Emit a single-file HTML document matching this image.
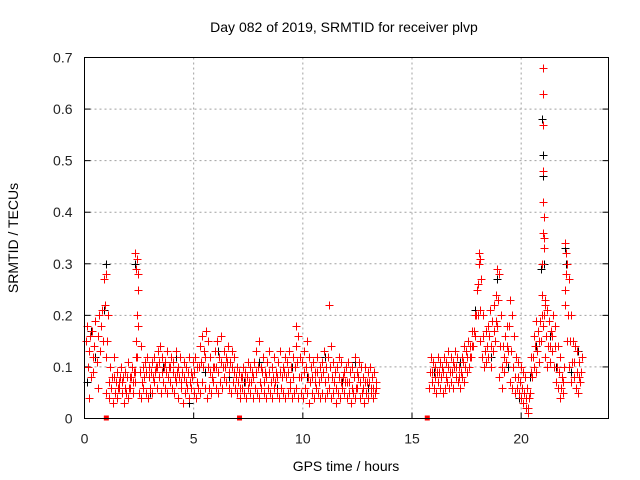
<!DOCTYPE html>
<html><head><meta charset="utf-8"><style>
body{margin:0;background:#fff}
svg{display:block;font-family:"Liberation Sans",sans-serif}
</style></head><body>
<svg id="c" width="640" height="480">
<text x="344" y="32" font-size="14" text-anchor="middle">Day 082 of 2019, SRMTID for receiver plvp</text>
<text x="346" y="471" font-size="14" text-anchor="middle">GPS time / hours</text>
<text transform="translate(18,238) rotate(-90)" font-size="14" text-anchor="middle">SRMTID / TECUs</text>
<g id="grid"></g><g id="marks"></g>
<rect x="84.5" y="57.5" width="524" height="361" fill="none" stroke="#000"/>
</svg>
<script>
const xTicks=[0,5,10,15,20];
const yTicks=[0,0.1,0.2,0.3,0.4,0.5,0.6,0.7];
const yTickLabels=["0","0.1","0.2","0.3","0.4","0.5","0.6","0.7"];
const blackT=[0.1,0.3,0.5,0.9,1.0,2.3,2.4,3.0,3.6,4.2,4.8,5.5,6.1,6.6,7.3,8.0,8.8,9.5,10.2,11.0,11.2,11.8,12.4,13.0,16.0,16.6,17.2,17.9,18.1,18.6,18.9,19.4,19.9,20.2,20.4,20.7,20.9,20.95,21.0,21.02,21.05,21.3,21.6,22.0,22.05,22.3,22.6];
const blackV=[0.07,0.17,0.12,0.21,0.3,0.3,0.2,0.05,0.1,0.12,0.03,0.09,0.13,0.08,0.07,0.11,0.06,0.1,0.08,0.12,0.22,0.07,0.11,0.06,0.09,0.07,0.11,0.21,0.31,0.12,0.27,0.1,0.04,0.02,0.08,0.14,0.29,0.58,0.51,0.47,0.3,0.16,0.1,0.33,0.3,0.09,0.13];
const redT=[0.05,0.1,0.15,0.2,0.25,0.3,0.35,0.4,0.45,0.5,0.55,0.6,0.65,0.7,0.75,0.8,0.85,0.9,0.95,1.0,1.0,2.3,2.35,2.35,2.4,2.4,2.45,9.7,11.2,18.05,18.1,18.9,20.95,21.0,21.0,21.0,21.0,21.02,21.02,21.04,21.05,21.05,21.1,22.0,22.0,22.05,22.1,0.2,0.4,0.6];
const redV=[0.15,0.18,0.1,0.13,0.16,0.08,0.17,0.12,0.14,0.19,0.11,0.16,0.2,0.13,0.18,0.21,0.15,0.27,0.22,0.28,0.12,0.32,0.29,0.15,0.31,0.2,0.28,0.18,0.22,0.3,0.31,0.29,0.3,0.68,0.63,0.42,0.36,0.57,0.48,0.39,0.33,0.35,0.22,0.34,0.25,0.32,0.3,0.04,0.09,0.06];
const segAStart=1.0, segBStart=15.8, step=0.1;
const segALow=[0.05,0.04,0.06,0.03,0.05,0.04,0.06,0.05,0.03,0.05,0.04,0.06,0.05,0.07,0.12,0.05,0.04,0.06,0.05,0.04,0.06,0.05,0.07,0.06,0.08,0.05,0.07,0.06,0.05,0.07,0.06,0.05,0.07,0.04,0.06,0.03,0.05,0.06,0.04,0.06,0.05,0.04,0.06,0.05,0.07,0.06,0.04,0.06,0.05,0.07,0.06,0.05,0.07,0.06,0.08,0.07,0.06,0.05,0.07,0.06,0.05,0.04,0.06,0.05,0.04,0.06,0.05,0.04,0.06,0.05,0.04,0.06,0.05,0.04,0.06,0.05,0.04,0.06,0.05,0.04,0.06,0.05,0.04,0.05,0.06,0.04,0.05,0.06,0.04,0.05,0.04,0.06,0.05,0.03,0.05,0.04,0.06,0.05,0.04,0.05,0.04,0.05,0.06,0.04,0.05,0.03,0.05,0.04,0.06,0.05,0.04,0.05,0.03,0.05,0.04,0.06,0.04,0.05,0.03,0.05,0.04,0.05,0.04,0.05];
const segAMid=[0.15,0.07,0.06,0.08,0.07,0.06,0.08,0.07,0.06,0.08,0.06,0.08,0.07,0.09,0.18,0.09,0.07,0.08,0.09,0.08,0.09,0.08,0.09,0.1,0.11,0.09,0.1,0.09,0.08,0.1,0.09,0.08,0.09,0.08,0.07,0.08,0.07,0.09,0.07,0.08,0.09,0.07,0.1,0.11,0.1,0.12,0.1,0.09,0.08,0.1,0.1,0.09,0.11,0.1,0.1,0.11,0.09,0.1,0.09,0.08,0.07,0.06,0.08,0.07,0.08,0.07,0.07,0.08,0.09,0.1,0.07,0.09,0.07,0.08,0.09,0.07,0.08,0.07,0.08,0.09,0.08,0.09,0.08,0.09,0.07,0.08,0.1,0.11,0.08,0.08,0.09,0.1,0.08,0.07,0.08,0.07,0.09,0.07,0.08,0.09,0.07,0.08,0.1,0.08,0.07,0.06,0.08,0.07,0.08,0.07,0.07,0.07,0.06,0.08,0.06,0.08,0.07,0.06,0.07,0.07,0.07,0.06,0.06,0.06];
const segAHigh=[0.2,0.1,0.08,0.12,0.09,0.07,0.1,0.08,0.09,0.11,0.08,0.1,0.09,0.12,0.25,0.14,0.1,0.11,0.12,0.1,0.11,0.12,0.1,0.13,0.14,0.12,0.11,0.13,0.1,0.12,0.11,0.13,0.1,0.12,0.09,0.11,0.1,0.12,0.09,0.11,0.12,0.1,0.14,0.16,0.13,0.17,0.15,0.12,0.1,0.13,0.15,0.12,0.16,0.13,0.12,0.14,0.11,0.13,0.12,0.1,0.09,0.08,0.1,0.09,0.11,0.1,0.09,0.11,0.13,0.15,0.1,0.12,0.09,0.11,0.13,0.1,0.12,0.09,0.11,0.13,0.1,0.12,0.11,0.13,0.1,0.12,0.14,0.16,0.12,0.11,0.13,0.15,0.12,0.1,0.11,0.09,0.12,0.1,0.11,0.13,0.1,0.12,0.14,0.11,0.09,0.1,0.12,0.11,0.09,0.1,0.11,0.09,0.1,0.12,0.09,0.11,0.1,0.08,0.1,0.09,0.1,0.08,0.09,0.07];
const segBLow=[0.06,0.07,0.06,0.05,0.07,0.06,0.05,0.06,0.07,0.06,0.07,0.06,0.08,0.07,0.06,0.08,0.07,0.09,0.1,0.12,0.14,0.16,0.2,0.15,0.12,0.1,0.11,0.12,0.1,0.13,0.15,0.18,0.08,0.06,0.09,0.11,0.13,0.07,0.06,0.05,0.06,0.05,0.04,0.03,0.02,0.01,0.05,0.08,0.1,0.09,0.11,0.15,0.18,0.12,0.1,0.11,0.13,0.1,0.07,0.06,0.04,0.05,0.22,0.15,0.1,0.07,0.08,0.06,0.05,0.07];
const segBMid=[0.09,0.09,0.08,0.09,0.09,0.08,0.09,0.08,0.1,0.09,0.09,0.1,0.1,0.08,0.09,0.11,0.1,0.12,0.12,0.14,0.17,0.2,0.26,0.21,0.16,0.13,0.14,0.16,0.14,0.17,0.19,0.23,0.14,0.1,0.12,0.14,0.18,0.13,0.1,0.08,0.08,0.07,0.06,0.05,0.04,0.02,0.09,0.12,0.14,0.13,0.15,0.2,0.2,0.16,0.14,0.14,0.16,0.14,0.1,0.09,0.06,0.07,0.28,0.2,0.15,0.11,0.11,0.09,0.08,0.09];
const segBHigh=[0.12,0.11,0.1,0.12,0.11,0.1,0.12,0.11,0.13,0.12,0.11,0.13,0.12,0.1,0.12,0.14,0.13,0.15,0.14,0.17,0.2,0.25,0.32,0.27,0.2,0.17,0.18,0.21,0.19,0.22,0.24,0.28,0.2,0.14,0.16,0.18,0.23,0.2,0.16,0.12,0.11,0.1,0.09,0.08,0.06,0.04,0.12,0.16,0.19,0.17,0.19,0.24,0.23,0.21,0.19,0.17,0.2,0.18,0.14,0.12,0.08,0.1,0.32,0.27,0.2,0.15,0.14,0.13,0.11,0.12];
const zeroMarkT=[1.0,7.1,15.7];
const X0=84.5,X1=608.5,Y0=418.5,Y1=57.5,XMAX=24,YMAX=0.7;
function xs(t){return X0+(X1-X0)*t/XMAX;}
function ys(v){return Y0-(Y0-Y1)*v/YMAX;}
const NS="http://www.w3.org/2000/svg",svg=document.getElementById('c'),g=document.getElementById('grid'),m=document.getElementById('marks');
function el(tag,a,p){const e=document.createElementNS(NS,tag);for(const k in a)e.setAttribute(k,a[k]);p.appendChild(e);return e;}
xTicks.forEach(t=>{const x=xs(t);
 if(t>0){const l=el('line',{x1:x,x2:x,y1:Y1,y2:Y0,stroke:'#a0a0a0','stroke-dasharray':'2,3'},g);
 
 }
 el('line',{x1:x,x2:x,y1:Y0,y2:Y0-6,stroke:'#000'},g);
 const tx=el('text',{x:x,y:Y0+25,'font-size':14,'text-anchor':'middle',fill:'#222'},svg);tx.textContent=t;
 
 });
yTicks.forEach((v,i)=>{const y=ys(v);
 if(v>0&&v<0.7){const l=el('line',{x1:X0,x2:X1,y1:y,y2:y,stroke:'#a0a0a0','stroke-dasharray':'2,3'},g);
 
 }
 el('line',{x1:X0,x2:X0+6,y1:y,y2:y,stroke:'#000'},g);el('line',{x1:X1,x2:X1-6,y1:y,y2:y,stroke:'#000'},g);
 const tx=el('text',{x:X0-12,y:y+5,'font-size':14,'text-anchor':'end',fill:'#222'},svg);tx.textContent=yTickLabels[i];
 
 });
function plus(t,v,c,name){const x=Math.round(xs(t))+0.5,y=Math.round(ys(v))+0.5;
 const p=el('path',{d:`M${x-4},${y}h8M${x},${y-4}v8`,stroke:c,'stroke-width':1,fill:'none','shape-rendering':'crispEdges'},m);
 
 }
blackT.forEach((t,i)=>plus(t,blackV[i],'#000','black-point'));
function seg(start,arr,off){arr.forEach((v,i)=>plus(start+i*step+off,v,'#f00','red-point'));}
seg(segAStart,segALow,0);seg(segAStart,segAMid,0.035);seg(segAStart,segAHigh,0.07);
seg(segBStart,segBLow,0);seg(segBStart,segBMid,0.035);seg(segBStart,segBHigh,0.07);
redT.forEach((t,i)=>plus(t,redV[i],'#f00','red-point'));
zeroMarkT.forEach(t=>{const r=el('rect',{x:xs(t)-2.5,y:Y0-3,width:5,height:5,fill:'#f00'},m);
 
 });
</script>
</body></html>
